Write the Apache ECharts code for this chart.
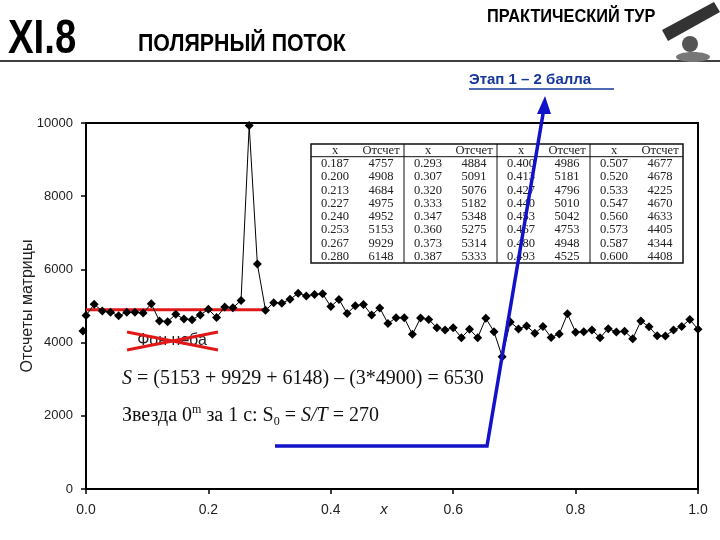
<!DOCTYPE html>
<html>
<head>
<meta charset="utf-8">
<script src="https://cdn.jsdelivr.net/npm/echarts@6/dist/echarts.min.js"></script>
<style>
  html, body { margin: 0; padding: 0; background: #fff; }
  #chart { width: 720px; height: 540px; }
</style>
</head>
<body>
<div id="chart"></div>
<script>
// отсчеты матрицы, шаг по x = 1/75
const xStep = 1 / 75;
const counts = [
  4740, 5046, 4863, 4828, 4735, 4828, 4828, 4809, 5063, 4590, 4572, 4773, 4645, 4626,
  4757, 4908, 4684, 4975, 4952, 5153, 9929, 6148,
  4884, 5091, 5076, 5182, 5348, 5275, 5314, 5333,
  4986, 5181, 4796, 5010, 5042, 4753, 4948, 4525,
  4677, 4678, 4225, 4670, 4633, 4405, 4344, 4408,
  4135, 4363, 4135, 4663, 4298, 3615, 4560, 4375, 4455, 4254,
  4440, 4140, 4235, 4785, 4285, 4295, 4344, 4135, 4381, 4290,
  4308, 4107, 4590, 4430, 4190, 4180, 4344, 4440, 4630, 4363
];
const strayPoint = [-0.005, 4317];
const skyLevel = 4900;
const skyEnd = 0.29;
const tableStart = 14;   // первая строка таблицы (x = 0.187)
const tableRows = 8;
const tableGroups = 4;

const points = [strayPoint];
counts.forEach((c, i) => points.push([i * xStep, c]));

const serif = '"Liberation Serif", "Times New Roman", serif';
const sans = '"Liberation Sans", Arial, sans-serif';

// таблица
const buildTable = () => {
  const left = 311, top = 144, w = 372, h = 119, gw = 93;
  const children = [
    { type: 'rect', shape: { x: left, y: top, width: w, height: h }, style: { fill: '#fff', stroke: '#111', lineWidth: 1.5 } },
    { type: 'line', shape: { x1: left, y1: 156.7, x2: left + w, y2: 156.7 }, style: { stroke: '#111', lineWidth: 1 } }
  ];
  for (let g = 0; g < tableGroups; g++) {
    const gx = left + g * gw;
    if (g > 0) {
      children.push({ type: 'line', shape: { x1: gx, y1: top, x2: gx, y2: top + h }, style: { stroke: '#111', lineWidth: 1 } });
    }
    children.push({ type: 'text', style: { x: gx + 24, y: 151, text: 'x', font: '12.5px ' + serif, fill: '#222', align: 'center', verticalAlign: 'middle' } });
    children.push({ type: 'text', style: { x: gx + 70, y: 151, text: 'Отсчет', font: '12.5px ' + serif, fill: '#222', align: 'center', verticalAlign: 'middle' } });
    for (let r = 0; r < tableRows; r++) {
      const i = tableStart + g * tableRows + r;
      const ry = 163.7 + r * 13.3;
      children.push({ type: 'text', style: { x: gx + 24, y: ry, text: (i * xStep).toFixed(3), font: '12.5px ' + serif, fill: '#222', align: 'center', verticalAlign: 'middle' } });
      children.push({ type: 'text', style: { x: gx + 70, y: ry, text: String(counts[i]), font: '12.5px ' + serif, fill: '#222', align: 'center', verticalAlign: 'middle' } });
    }
  }
  return { type: 'group', z: 50, children };
};

const chart = echarts.init(document.getElementById('chart'));

chart.setOption({
  backgroundColor: '#fff',
  animation: false,
  grid: { left: 86, right: 22, top: 123, bottom: 51, show: true, borderColor: '#000', borderWidth: 2 },
  xAxis: {
    type: 'value', min: 0, max: 1, interval: 0.2,
    axisLine: { show: true, lineStyle: { color: '#000', width: 2 } },
    axisTick: { show: true, inside: false, length: 5, lineStyle: { color: '#000', width: 1.5 } },
    axisLabel: { color: '#222', fontSize: 14, fontFamily: sans, margin: 14, formatter: v => v.toFixed(1) },
    splitLine: { show: false }
  },
  yAxis: {
    type: 'value', min: 0, max: 10000, interval: 2000,
    name: 'Отсчеты матрицы', nameLocation: 'middle', nameGap: 50, nameRotate: 90, nameMoveOverlap: false,
    nameTextStyle: { fontSize: 16, fontFamily: sans, color: '#222' },
    axisLine: { show: true, lineStyle: { color: '#000', width: 2 } },
    axisTick: { show: true, inside: false, length: 5, lineStyle: { color: '#000', width: 1.5 } },
    axisLabel: { color: '#222', fontSize: 13, fontFamily: sans, margin: 13, formatter: v => String(v) },
    splitLine: { show: false }
  },
  series: [
    {
      name: 'фон', type: 'line', z: 2, symbol: 'none', silent: true,
      data: [[0, skyLevel], [skyEnd, skyLevel]],
      lineStyle: { color: '#e01818', width: 3 }
    },
    {
      name: 'отсчеты', type: 'line', z: 3, clip: false,
      data: points,
      symbol: 'diamond', symbolSize: 9,
      itemStyle: { color: '#000' },
      lineStyle: { color: '#000', width: 1 }
    }
  ],
  graphic: [
    // шапка
    { type: 'text', x: 8, y: 40, scaleX: 0.8, style: { x: 0, y: 0, text: 'XI.8', font: 'bold 48px ' + sans, fill: '#000', verticalAlign: 'middle' } },
    { type: 'text', x: 138, y: 44, scaleX: 0.89, style: { x: 0, y: 0, text: 'ПОЛЯРНЫЙ ПОТОК', font: 'bold 24px ' + sans, fill: '#000', verticalAlign: 'middle' } },
    { type: 'text', x: 487, y: 17, scaleX: 0.86, style: { x: 0, y: 0, text: 'ПРАКТИЧЕСКИЙ ТУР', font: 'bold 19px ' + sans, fill: '#000', verticalAlign: 'middle' } },
    { type: 'line', shape: { x1: 0, y1: 61, x2: 720, y2: 61 }, style: { stroke: '#000', lineWidth: 1.5 } },
    // телескоп
    { type: 'polygon', shape: { points: [[662, 30], [714, 2], [720, 12], [668, 41]] }, style: { fill: '#333' } },
    { type: 'circle', shape: { cx: 690, cy: 44, r: 8 }, style: { fill: '#555' } },
    { type: 'ellipse', shape: { cx: 693, cy: 57, rx: 17, ry: 5 }, style: { fill: '#777' } },
    // этап
    { type: 'text', style: { x: 469, y: 80, text: 'Этап 1 – 2 балла', font: 'bold 15px ' + sans, fill: '#17379b', verticalAlign: 'middle' } },
    { type: 'line', shape: { x1: 469, y1: 89, x2: 614, y2: 89 }, style: { stroke: '#17379b', lineWidth: 1.5 } },
    buildTable(),
    // стрелка
    { type: 'polyline', z: 60, shape: { points: [[275, 446], [487, 446], [544, 108]] }, style: { stroke: '#1212c8', lineWidth: 3.5, fill: null } },
    { type: 'polygon', z: 60, shape: { points: [[545, 96], [537, 114], [551, 114]] }, style: { fill: '#1212c8' } },
    // фон неба
    { type: 'text', style: { x: 172, y: 341, text: 'Фон неба', font: '16px ' + sans, fill: '#222', align: 'center', verticalAlign: 'middle' } },
    { type: 'line', z: 55, shape: { x1: 127, y1: 332, x2: 218, y2: 350 }, style: { stroke: '#e01818', lineWidth: 3 } },
    { type: 'line', z: 55, shape: { x1: 127, y1: 350, x2: 218, y2: 332 }, style: { stroke: '#e01818', lineWidth: 3 } },
    // формулы
    {
      type: 'text', style: {
        x: 122, y: 367, verticalAlign: 'top',
        text: '{i|S} = (5153 + 9929 + 6148) – (3*4900) = 6530',
        font: '20px ' + serif, fill: '#111', lineHeight: 24,
        rich: { i: { fontStyle: 'italic', fontSize: 20, fontFamily: serif, lineHeight: 24 } }
      }
    },
    {
      type: 'text', style: {
        x: 122, y: 404, verticalAlign: 'top',
        text: 'Звезда 0{sup|m} за 1 с: S{sub|0} = {i|S/T} = 270',
        font: '20px ' + serif, fill: '#111', lineHeight: 24,
        rich: {
          i: { fontStyle: 'italic', fontSize: 20, fontFamily: serif, lineHeight: 24 },
          sup: { fontSize: 12, fontFamily: serif, lineHeight: 13, verticalAlign: 'top' },
          sub: { fontSize: 12, fontFamily: serif, lineHeight: 13, verticalAlign: 'bottom' }
        }
      }
    },
    // имя оси x
    { type: 'text', style: { x: 384, y: 510, text: 'x', font: 'italic 15px ' + sans, fill: '#222', align: 'center', verticalAlign: 'middle' } }
  ]
});
</script>
</body>
</html>
